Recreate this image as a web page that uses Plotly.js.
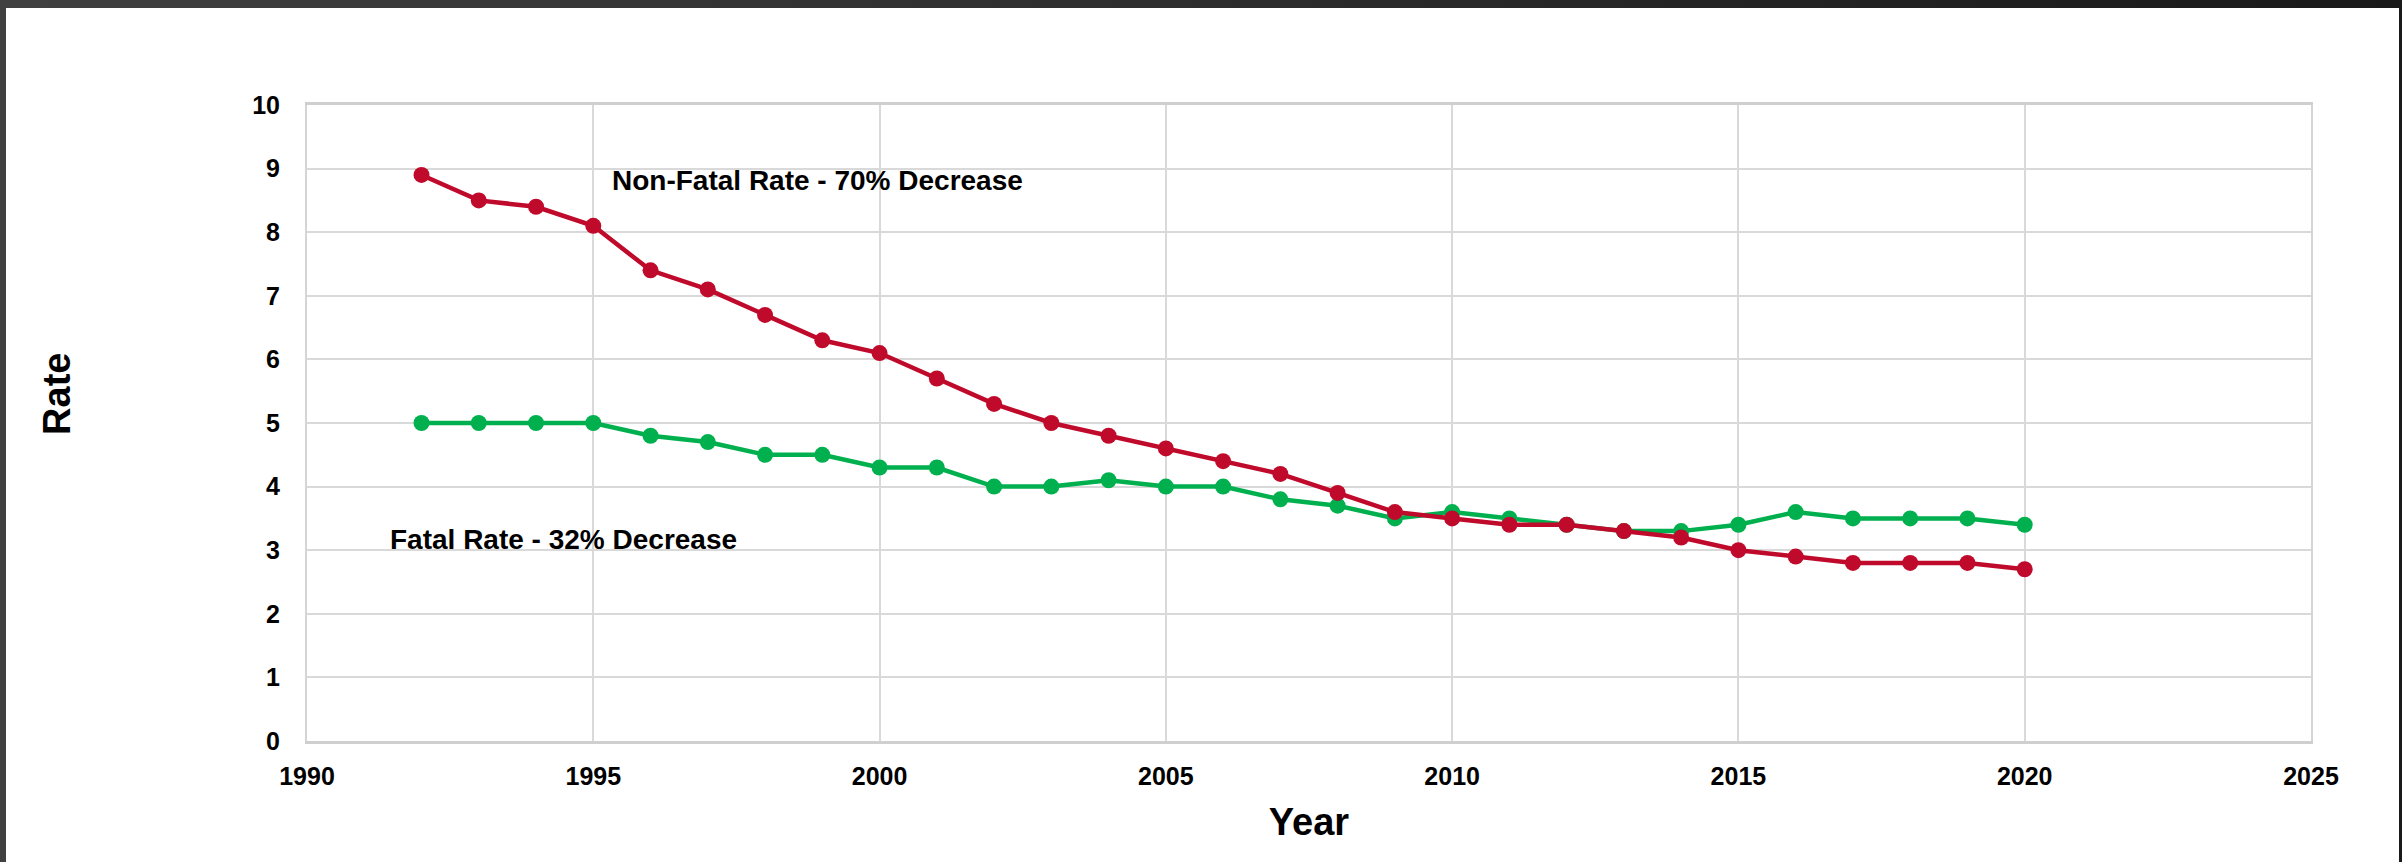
<!DOCTYPE html>
<html>
<head>
<meta charset="utf-8">
<script src="https://cdn.plot.ly/plotly-3.0.1.min.js"></script>
<style>
html,body{margin:0;padding:0;width:2402px;height:862px;overflow:hidden;}
body{background:linear-gradient(to right,#404040,#1a1a1a);position:relative;}
#chart{position:absolute;left:6px;top:8px;width:2393px;height:854px;background:#fff;}
</style>
</head>
<body>
<div id="chart"></div>
<script>
const years = [1992,1993,1994,1995,1996,1997,1998,1999,2000,2001,2002,2003,2004,2005,2006,2007,2008,2009,2010,2011,2012,2013,2014,2015,2016,2017,2018,2019,2020];
const nonFatalRate = [8.9,8.5,8.4,8.1,7.4,7.1,6.7,6.3,6.1,5.7,5.3,5.0,4.8,4.6,4.4,4.2,3.9,3.6,3.5,3.4,3.4,3.3,3.2,3.0,2.9,2.8,2.8,2.8,2.7];
const fatalRate = [5.0,5.0,5.0,5.0,4.8,4.7,4.5,4.5,4.3,4.3,4.0,4.0,4.1,4.0,4.0,3.8,3.7,3.5,3.6,3.5,3.4,3.3,3.3,3.4,3.6,3.5,3.5,3.5,3.4];
const xTicks = [1990,1995,2000,2005,2010,2015,2020,2025];
const yTicks = [0,1,2,3,4,5,6,7,8,9,10];

const FONT = '"Liberation Sans", Arial, sans-serif';
const RED = '#c00a2b';
const GREEN = '#00b04f';

const traces = [
  {x: years, y: fatalRate, type:'scatter', mode:'lines+markers', name:'Fatal Rate',
   line:{color:GREEN, width:4.5}, marker:{color:GREEN, size:16}},
  {x: years, y: nonFatalRate, type:'scatter', mode:'lines+markers', name:'Non-Fatal Rate',
   line:{color:RED, width:4.5}, marker:{color:RED, size:16}}
];

const layout = {
  width: 2393, height: 854,
  margin: {l: 300.6, r: 87.5, t: 97.3, b: 121.3},
  paper_bgcolor:'#ffffff', plot_bgcolor:'#ffffff',
  showlegend:false,
  font:{family:FONT, color:'#000'},
  xaxis:{
    range:[1990,2025], tickvals:xTicks, ticktext:xTicks.map(String),
    showgrid:true, gridcolor:'#d9d9d9', gridwidth:2,
    showline:true, linecolor:'#cfcfcf', linewidth:3, mirror:true,
    zeroline:false, ticks:'', ticklabelstandoff:11,
    tickfont:{family:FONT, size:25, color:'#000', weight:'bold'},
    title:{text:'<b>Year</b>', font:{family:FONT, size:38, color:'#000'}, standoff:20}
  },
  yaxis:{
    range:[0,10], tickvals:yTicks, ticktext:yTicks.map(String),
    showgrid:true, gridcolor:'#d9d9d9', gridwidth:2,
    showline:true, linecolor:'#d5d5d5', linewidth:2, mirror:true,
    zeroline:false, ticks:'', ticklabelstandoff:20,
    tickfont:{family:FONT, size:25, color:'#000', weight:'bold'}
  },
  annotations:[
    {x:1995.3, y:8.82, xref:'x', yref:'y', xanchor:'left', yanchor:'middle', showarrow:false,
     text:'<b>Non-Fatal Rate - 70% Decrease</b>', font:{family:FONT, size:28, color:'#000'}},
    {x:1991.42, y:3.17, xref:'x', yref:'y', xanchor:'left', yanchor:'middle', showarrow:false,
     text:'<b>Fatal Rate - 32% Decrease</b>', font:{family:FONT, size:28, color:'#000'}},
    {x:-0.1245, y:0.545, xref:'paper', yref:'paper', xanchor:'center', yanchor:'middle', showarrow:false,
     textangle:-90, text:'<b>Rate</b>', font:{family:FONT, size:38, color:'#000'}}
  ]
};

Plotly.newPlot('chart', traces, layout, {displayModeBar:false, staticPlot:true});
</script>
</body>
</html>
